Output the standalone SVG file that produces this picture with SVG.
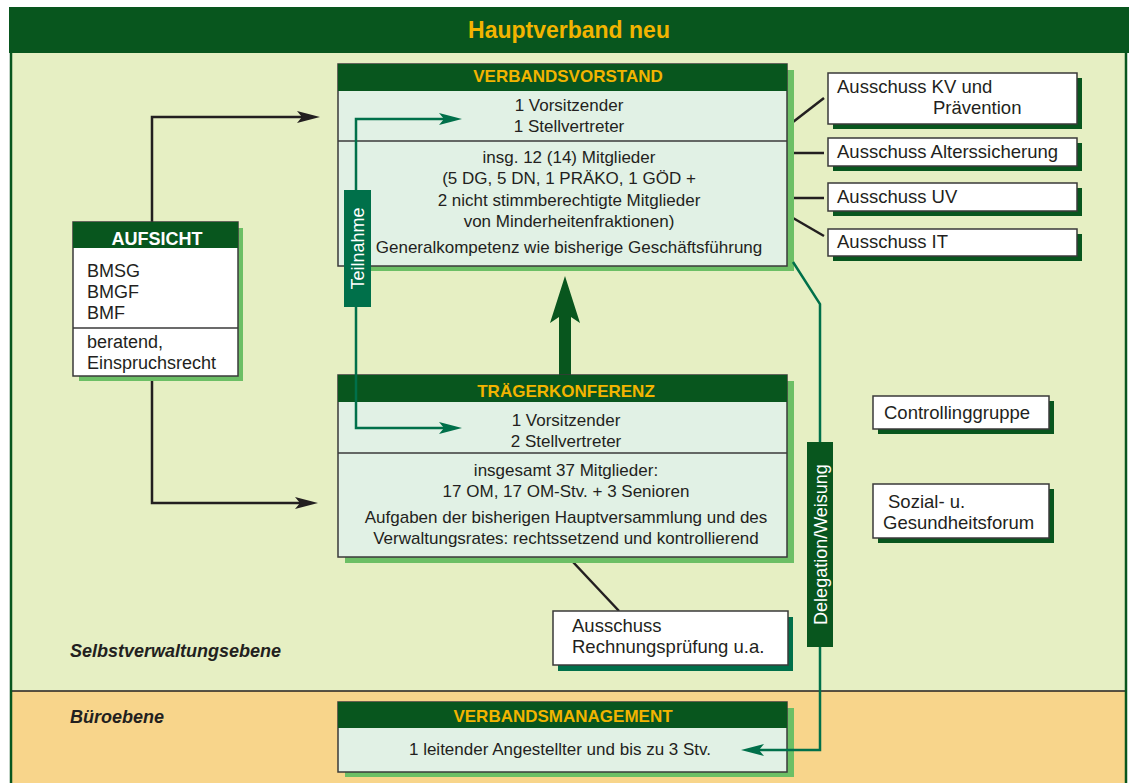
<svg xmlns="http://www.w3.org/2000/svg" width="1129" height="783" viewBox="0 0 1129 783">
<style>
.t{font-family:"Liberation Sans",Arial,sans-serif;font-size:17px;fill:#231f20}
.c{text-anchor:middle}
.ti{font-family:"Liberation Sans",Arial,sans-serif;font-weight:bold;fill:#f2b400;font-size:17px;text-anchor:middle}
.wt{font-family:"Liberation Sans",Arial,sans-serif;fill:#fff;font-size:18px;text-anchor:middle}
.cm{font-size:18.5px}
.box{fill:#e1f1e5;stroke:#3a3a3a;stroke-width:1.5}
.wbox{fill:#fff;stroke:#3a3a3a;stroke-width:1.5}
.hdr{fill:#08561e}
.shL{fill:#6cbf65}
.shD{fill:#08561e}
.shT{fill:#00704a}
.div{stroke:#3a3a3a;stroke-width:1.5}
.conn{fill:none;stroke:#231f20;stroke-width:2.5}
.gconn{fill:none;stroke:#00704a;stroke-width:2.5}
.lvl{font-family:"Liberation Sans",Arial,sans-serif;font-size:18px;font-weight:bold;font-style:italic;fill:#231f20}
</style>
<defs>
<marker id="ab" markerUnits="userSpaceOnUse" markerWidth="24" markerHeight="14" viewBox="0 -7 24 14" refX="5" refY="0" orient="auto">
<path d="M0,-6 L23,0 L0,6 L5,0 Z" fill="#231f20"/>
</marker>
<marker id="ag" markerUnits="userSpaceOnUse" markerWidth="24" markerHeight="14" viewBox="0 -7 24 14" refX="5" refY="0" orient="auto">
<path d="M0,-6 L23,0 L0,6 L5,0 Z" fill="#00704a"/>
</marker>
</defs>

<g id="background">
<rect x="10" y="53" width="1117" height="638" fill="#e6efc3"/>
<rect x="10" y="691" width="1117" height="92" fill="#f8d58b"/>
<line x1="10" y1="691" x2="1127" y2="691" stroke="#231f20" stroke-width="1.5"/>
<line x1="11" y1="53" x2="11" y2="783" stroke="#08561e" stroke-width="2.5"/>
<line x1="1126" y1="53" x2="1126" y2="783" stroke="#08561e" stroke-width="2.5"/>
<rect x="9" y="7" width="1120" height="46" fill="#08561e"/>
<text x="569" y="38" class="ti" style="font-size:23px">Hauptverband neu</text>
<text x="70" y="657" class="lvl">Selbstverwaltungsebene</text>
<text x="70" y="723" class="lvl">Büroebene</text>
</g>

<g id="connectors">
<polyline class="conn" points="152,222 152,117 302,117" marker-end="url(#ab)"/>
<polyline class="conn" points="152,381 152,503 300,503" marker-end="url(#ab)"/>
<line class="conn" x1="793" y1="122" x2="824" y2="98"/>
<line class="conn" x1="793" y1="153" x2="824" y2="153"/>
<line class="conn" x1="793" y1="198" x2="824" y2="198"/>
<line class="conn" x1="793" y1="218" x2="824" y2="236"/>
<line class="conn" x1="573" y1="562" x2="619" y2="611"/>
<path d="M565,276 L580,323 L571,317 L571,377 L559,377 L559,317 L550,323 Z" fill="#08561e"/>
</g>

<g id="aufsicht">
<rect x="79" y="228" width="164" height="153" class="shL"/>
<rect x="73" y="222" width="165" height="154" class="wbox"/>
<rect x="73" y="222" width="165" height="26" class="hdr"/>
<line x1="73" y1="328" x2="238" y2="328" class="div"/>
<text x="157" y="245" class="wt" style="font-weight:bold">AUFSICHT</text>
<text class="t" style="font-size:18px"><tspan x="87" y="277">BMSG</tspan><tspan x="87" y="298">BMGF</tspan><tspan x="87" y="319">BMF</tspan><tspan x="87" y="348">beratend,</tspan><tspan x="87" y="369">Einspruchsrecht</tspan></text>
</g>

<g id="verbandsvorstand">
<rect x="345" y="70" width="449" height="201" class="shL"/>
<rect x="338" y="64" width="449" height="202" class="box"/>
<rect x="338" y="64" width="449" height="27" class="hdr"/>
<line x1="338" y1="141" x2="787" y2="141" class="div"/>
<text x="568" y="82" class="ti">VERBANDSVORSTAND</text>
<text class="t c"><tspan x="569" y="111">1 Vorsitzender</tspan><tspan x="569" y="132">1 Stellvertreter</tspan><tspan x="569" y="163">insg. 12 (14) Mitglieder</tspan><tspan x="569" y="184">(5 DG, 5 DN, 1 PRÄKO, 1 GÖD +</tspan><tspan x="569" y="206">2 nicht stimmberechtigte Mitglieder</tspan><tspan x="569" y="227">von Minderheitenfraktionen)</tspan><tspan x="569" y="253">Generalkompetenz wie bisherige Geschäftsführung</tspan></text>
</g>

<g id="traegerkonferenz">
<rect x="345" y="381" width="449" height="182" class="shL"/>
<rect x="338" y="375" width="449" height="182" class="box"/>
<rect x="338" y="375" width="449" height="27" class="hdr"/>
<line x1="338" y1="453" x2="787" y2="453" class="div"/>
<text x="566" y="397" class="ti">TRÄGERKONFERENZ</text>
<text class="t c"><tspan x="566" y="426">1 Vorsitzender</tspan><tspan x="566" y="447">2 Stellvertreter</tspan><tspan x="566" y="476">insgesamt 37 Mitglieder:</tspan><tspan x="566" y="497">17 OM, 17 OM-Stv. + 3 Senioren</tspan><tspan x="566" y="523">Aufgaben der bisherigen Hauptversammlung und des</tspan><tspan x="566" y="544">Verwaltungsrates: rechtssetzend und kontrollierend</tspan></text>
</g>

<g id="verbandsmanagement">
<rect x="345" y="708" width="449" height="69" class="shL"/>
<rect x="338" y="702" width="449" height="70" class="box"/>
<rect x="338" y="702" width="449" height="26" class="hdr"/>
<text x="563" y="722" class="ti">VERBANDSMANAGEMENT</text>
<text x="560" y="755" class="t c">1 leitender Angestellter und bis zu 3 Stv.</text>
</g>

<g id="ausschuss-kv">
<rect x="833" y="78" width="249" height="51" class="shD"/>
<rect x="828" y="73" width="249" height="51" class="wbox"/>
<text class="t cm"><tspan x="837" y="93">Ausschuss KV und</tspan><tspan x="933" y="114">Prävention</tspan></text>
</g>
<g id="ausschuss-alterssicherung">
<rect x="833" y="143" width="249" height="28" class="shD"/>
<rect x="828" y="138" width="249" height="28" class="wbox"/>
<text x="837" y="158" class="t cm">Ausschuss Alterssicherung</text>
</g>
<g id="ausschuss-uv">
<rect x="833" y="188" width="249" height="28" class="shD"/>
<rect x="828" y="183" width="249" height="28" class="wbox"/>
<text x="837" y="203" class="t cm">Ausschuss UV</text>
</g>
<g id="ausschuss-it">
<rect x="833" y="234" width="249" height="27" class="shD"/>
<rect x="828" y="229" width="249" height="27" class="wbox"/>
<text x="837" y="248" class="t cm">Ausschuss IT</text>
</g>

<g id="controllinggruppe">
<rect x="878" y="401" width="176" height="33" class="shD"/>
<rect x="873" y="396" width="176" height="33" class="wbox"/>
<text x="884" y="419" class="t cm">Controllinggruppe</text>
</g>
<g id="sozialforum">
<rect x="878" y="489" width="176" height="54" class="shD"/>
<rect x="873" y="484" width="176" height="54" class="wbox"/>
<text class="t cm"><tspan x="888" y="508">Sozial- u.</tspan><tspan x="883" y="529">Gesundheitsforum</tspan></text>
</g>
<g id="ausschuss-rechnungspruefung">
<rect x="558" y="617" width="235" height="54" class="shT"/>
<rect x="553" y="611" width="235" height="54" class="wbox"/>
<text class="t cm"><tspan x="572" y="632">Ausschuss</tspan><tspan x="572" y="653">Rechnungsprüfung u.a.</tspan></text>
</g>

<g id="teilnahme">
<polyline class="gconn" points="356,306 356,119 444,119" marker-end="url(#ag)"/>
<polyline class="gconn" points="356,190 356,428 444,428" marker-end="url(#ag)"/>
<rect x="344" y="190" width="27" height="117" fill="#00704a"/>
<text x="0" y="0" class="wt" transform="translate(364,248.5) rotate(-90)">Teilnahme</text>
</g>

<g id="delegation">
<polyline class="gconn" points="793,262 820,304 820,750 759,750" marker-end="url(#ag)"/>
<rect x="807" y="442" width="26" height="205" fill="#08561e"/>
<text x="0" y="0" class="wt" transform="translate(826.5,544.5) rotate(-90)">Delegation/Weisung</text>
</g>
</svg>
